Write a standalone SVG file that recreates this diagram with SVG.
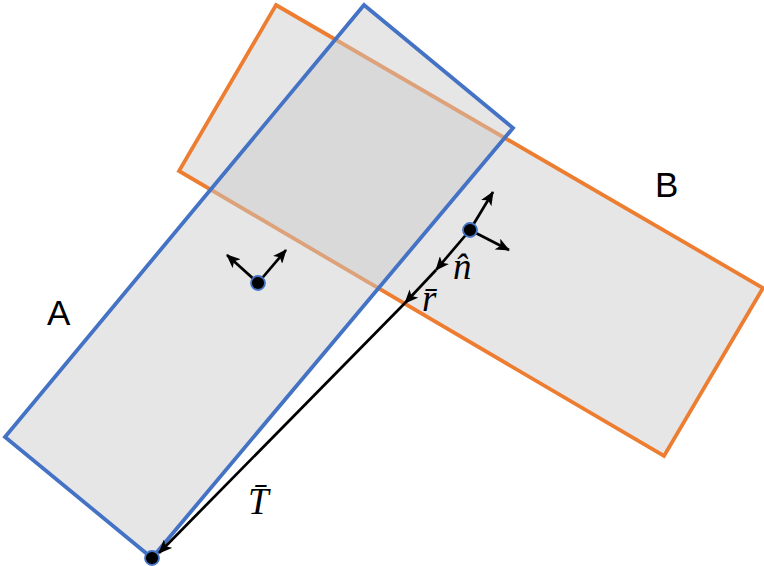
<svg xmlns="http://www.w3.org/2000/svg" width="764" height="566" viewBox="0 0 764 566">
<defs>
<style>
.lbl{font-family:"Liberation Sans",Arial,sans-serif;font-size:35px;fill:#000}
.math{font-family:"Liberation Serif","DejaVu Serif",serif;font-style:italic;font-size:37px;fill:#000}
.vec{stroke:#000;stroke-width:2.7;fill:none}
.dot{fill:#000;stroke:#4472C4;stroke-width:1.8}
</style>
<marker id="ah" viewBox="0 0 14 12" refX="13" refY="6" markerWidth="14" markerHeight="12" markerUnits="userSpaceOnUse" orient="auto">
<path d="M0,0 L14,6 L0,12 L3.5,6 Z" fill="#000"/>
</marker>
</defs>
<g id="B">
<polygon points="276,5 763,288 664,456 179,171" fill="#e6e6e6" stroke="#ED7D31" stroke-width="3.8" stroke-linejoin="miter"/>
</g>
<g id="A">
<polygon points="364,5 513,128 152,558 5,437" fill="#cbcbcb" fill-opacity="0.48" stroke="#4472C4" stroke-width="3.8"/>
</g>
<g id="connectors">
<line class="vec" x1="258" y1="283" x2="227" y2="255" marker-end="url(#ah)"/>
<line class="vec" x1="258" y1="283" x2="286" y2="250" marker-end="url(#ah)"/>
<line class="vec" x1="470" y1="230" x2="493" y2="192" marker-end="url(#ah)"/>
<line class="vec" x1="470" y1="230" x2="509" y2="250" marker-end="url(#ah)"/>
<line class="vec" x1="470" y1="230" x2="436" y2="270" marker-end="url(#ah)"/>
<line class="vec" x1="436" y1="270" x2="405" y2="303" marker-end="url(#ah)"/>
<line class="vec" x1="405" y1="303" x2="159" y2="553" marker-end="url(#ah)"/>
</g>
<g id="dots">
<circle class="dot" cx="258" cy="283" r="7"/>
<circle class="dot" cx="470" cy="230" r="7"/>
<circle class="dot" cx="152" cy="558" r="7"/>
</g>
<g id="labels">
<text class="lbl" x="47" y="325">A</text>
<text class="lbl" x="655" y="197">B</text>
<text class="math" x="453" y="279">n̂</text>
<text class="math" x="422" y="311">r̄</text>
<text class="math" x="248" y="514">T̄</text>
</g>
</svg>
